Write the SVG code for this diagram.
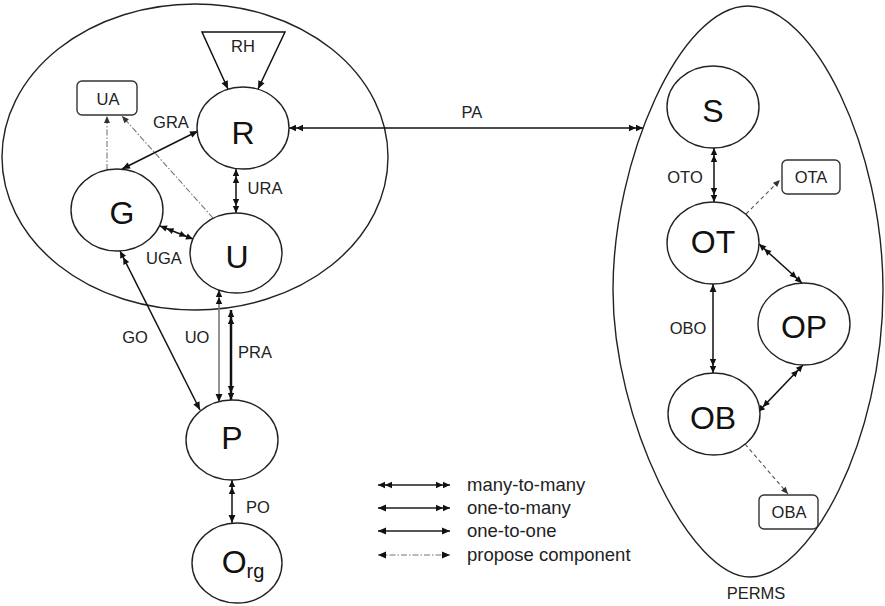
<svg xmlns="http://www.w3.org/2000/svg" width="885" height="606" viewBox="0 0 885 606">
  <style>
    .node { fill: #fff; stroke: #222; stroke-width: 1.4; }
    .box { fill: #fff; stroke: #333; stroke-width: 1.4; }
    .set { fill: none; stroke: #222; stroke-width: 1.4; }
    .big { font-family: "Liberation Sans", Arial, sans-serif; font-size: 32px; fill: #111; text-anchor: middle; }
    .lbl { font-family: "Liberation Sans", Arial, sans-serif; font-size: 16.5px; fill: #222; text-anchor: middle; }
    .leg { font-family: "Liberation Sans", Arial, sans-serif; font-size: 18.5px; fill: #222; }
    .rel { fill: none; stroke: #111; stroke-width: 1.5; }
    .rel-gray { fill: none; stroke: #777; stroke-width: 1.6; }
    .rel-bold { fill: none; stroke: #111; stroke-width: 2.5; }
    .prop { fill: none; stroke: #777; stroke-width: 1.1; stroke-dasharray: 6 2 1.5 2; }
    .dash { fill: none; stroke: #555; stroke-width: 1.1; stroke-dasharray: 4 3; }
    .legline { fill: none; stroke: #555; stroke-width: 2; }
  </style>
  <defs>
    <!-- single arrowhead -->
    <marker id="one" markerUnits="userSpaceOnUse" orient="auto-start-reverse" markerWidth="20" markerHeight="20" refX="0" refY="0" overflow="visible">
      <path d="M0,0 L-8,-3.4 L-8,3.4 Z" fill="#111"/>
    </marker>
    <!-- double arrowhead -->
    <marker id="many" markerUnits="userSpaceOnUse" orient="auto-start-reverse" markerWidth="20" markerHeight="20" refX="0" refY="0" overflow="visible">
      <path d="M0,0 L-7,-3.2 L-7,3.2 Z M-7,0 L-14,-3.2 L-14,3.2 Z" fill="#111"/>
    </marker>
    <marker id="oneGray" markerUnits="userSpaceOnUse" orient="auto-start-reverse" markerWidth="20" markerHeight="20" refX="0" refY="0" overflow="visible">
      <path d="M0,0 L-7,-3 L-7,3 Z" fill="#333"/>
    </marker>
  </defs>

  <!-- enclosing sets -->
  <g id="users-roles-set">
    <ellipse class="set" cx="195" cy="157" rx="193" ry="153"/>
  </g>
  <g id="perms-set">
    <path class="set" d="M748,6 C680,6 613,160 613,290 C613,420 690,577 750,577 C810,577 883,440 883,290 C883,150 815,6 748,6 Z"/>
    <text class="lbl" x="756" y="599">PERMS</text>
  </g>

  <!-- connectors -->
  <g id="connectors">
    <!-- role hierarchy -->
    <path class="rel" d="M228,89 L202,32 L285,32 L258,89" marker-start="url(#one)" marker-end="url(#one)"/>
    <!-- GRA -->
    <line class="rel" x1="122" y1="169" x2="198" y2="131" marker-start="url(#one)" marker-end="url(#one)"/>
    <!-- URA -->
    <line class="rel" x1="236" y1="169" x2="236" y2="213" marker-start="url(#many)" marker-end="url(#many)"/>
    <!-- UGA -->
    <line class="rel" x1="193" y1="239" x2="160" y2="226" marker-start="url(#many)" marker-end="url(#many)"/>
    <!-- GO -->
    <line class="rel" x1="120" y1="251" x2="200" y2="410" marker-start="url(#many)" marker-end="url(#one)"/>
    <!-- UO -->
    <line class="rel-gray" x1="219" y1="290" x2="219" y2="402" marker-start="url(#many)" marker-end="url(#one)"/>
    <!-- PRA -->
    <line class="rel-bold" x1="231" y1="310" x2="231" y2="400" marker-start="url(#many)" marker-end="url(#many)"/>
    <!-- PO -->
    <line class="rel" x1="232" y1="480" x2="232" y2="523" marker-start="url(#many)" marker-end="url(#one)"/>
    <!-- PA -->
    <line class="rel" x1="289" y1="128" x2="643" y2="128" marker-start="url(#many)" marker-end="url(#many)"/>
    <!-- user attributes -->
    <line class="prop" x1="107" y1="170" x2="107" y2="116" marker-end="url(#oneGray)"/>
    <line class="prop" x1="213" y1="218" x2="122" y2="116" marker-end="url(#oneGray)"/>
    <!-- OTO -->
    <line class="rel" x1="714" y1="148" x2="714" y2="202" marker-start="url(#many)" marker-end="url(#many)"/>
    <!-- OBO -->
    <line class="rel" x1="713" y1="284" x2="713" y2="373" marker-start="url(#one)" marker-end="url(#many)"/>
    <!-- OT - OP -->
    <line class="rel" x1="759" y1="244" x2="802" y2="283" marker-start="url(#many)" marker-end="url(#many)"/>
    <!-- OP - OB -->
    <line class="rel" x1="803" y1="365" x2="758" y2="412" marker-start="url(#many)" marker-end="url(#many)"/>
    <!-- object attributes -->
    <line class="dash" x1="746" y1="214" x2="780" y2="180" marker-end="url(#oneGray)"/>
    <line class="dash" x1="745" y1="444" x2="788" y2="494" marker-end="url(#oneGray)"/>
  </g>

  <!-- relation labels -->
  <g id="relation-labels">
    <text class="lbl" x="243" y="52">RH</text>
    <text class="lbl" x="171" y="128">GRA</text>
    <text class="lbl" x="265" y="194">URA</text>
    <text class="lbl" x="164" y="264">UGA</text>
    <text class="lbl" x="135" y="343">GO</text>
    <text class="lbl" x="197" y="343">UO</text>
    <text class="lbl" x="255" y="358">PRA</text>
    <text class="lbl" x="258" y="513">PO</text>
    <text class="lbl" x="472" y="118">PA</text>
    <text class="lbl" x="685" y="183">OTO</text>
    <text class="lbl" x="688" y="334">OBO</text>
  </g>

  <!-- nodes -->
  <g id="node-UA">
    <rect class="box" x="77" y="81" width="60" height="34" rx="5"/>
    <text class="lbl" x="108" y="105">UA</text>
  </g>
  <g id="node-R">
    <ellipse class="node" cx="243" cy="128" rx="46" ry="41"/>
    <text class="big" x="243" y="144">R</text>
  </g>
  <g id="node-G">
    <ellipse class="node" cx="117" cy="210" rx="46" ry="41"/>
    <text class="big" x="122" y="224">G</text>
  </g>
  <g id="node-U">
    <ellipse class="node" cx="236" cy="253" rx="46" ry="40"/>
    <text class="big" x="237" y="268">U</text>
  </g>
  <g id="node-P">
    <ellipse class="node" cx="232" cy="440" rx="46" ry="40"/>
    <text class="big" x="232" y="449">P</text>
  </g>
  <g id="node-Org">
    <ellipse class="node" cx="237" cy="563" rx="45" ry="40"/>
    <text class="big" x="243" y="573"><tspan>O</tspan><tspan font-size="20" dy="5">rg</tspan></text>
  </g>
  <g id="node-S">
    <ellipse class="node" cx="713" cy="107" rx="46" ry="41"/>
    <text class="big" x="713" y="122">S</text>
  </g>
  <g id="node-OT">
    <ellipse class="node" cx="713" cy="243" rx="46" ry="41"/>
    <text class="big" x="713" y="253">OT</text>
  </g>
  <g id="node-OTA">
    <rect class="box" x="782" y="160" width="58" height="34" rx="5"/>
    <text class="lbl" x="811" y="183">OTA</text>
  </g>
  <g id="node-OP">
    <ellipse class="node" cx="804" cy="324" rx="46" ry="41"/>
    <text class="big" x="804" y="338">OP</text>
  </g>
  <g id="node-OB">
    <ellipse class="node" cx="714" cy="414" rx="46" ry="41"/>
    <text class="big" x="713" y="429">OB</text>
  </g>
  <g id="node-OBA">
    <rect class="box" x="759" y="495" width="59" height="34" rx="5"/>
    <text class="lbl" x="789" y="518">OBA</text>
  </g>

  <!-- legend -->
  <g id="legend">
    <line class="legline" x1="378" y1="485" x2="450" y2="485" marker-start="url(#many)" marker-end="url(#many)"/>
    <text class="leg" x="467" y="491">many-to-many</text>
    <line class="legline" x1="378" y1="508" x2="450" y2="508" marker-start="url(#one)" marker-end="url(#many)"/>
    <text class="leg" x="467" y="514">one-to-many</text>
    <line class="legline" x1="378" y1="531" x2="450" y2="531" marker-start="url(#one)" marker-end="url(#one)"/>
    <text class="leg" x="467" y="537">one-to-one</text>
    <line class="prop" x1="378" y1="555" x2="450" y2="555" stroke-width="1.6" marker-start="url(#one)" marker-end="url(#one)"/>
    <text class="leg" x="467" y="561">propose component</text>
  </g>
</svg>
